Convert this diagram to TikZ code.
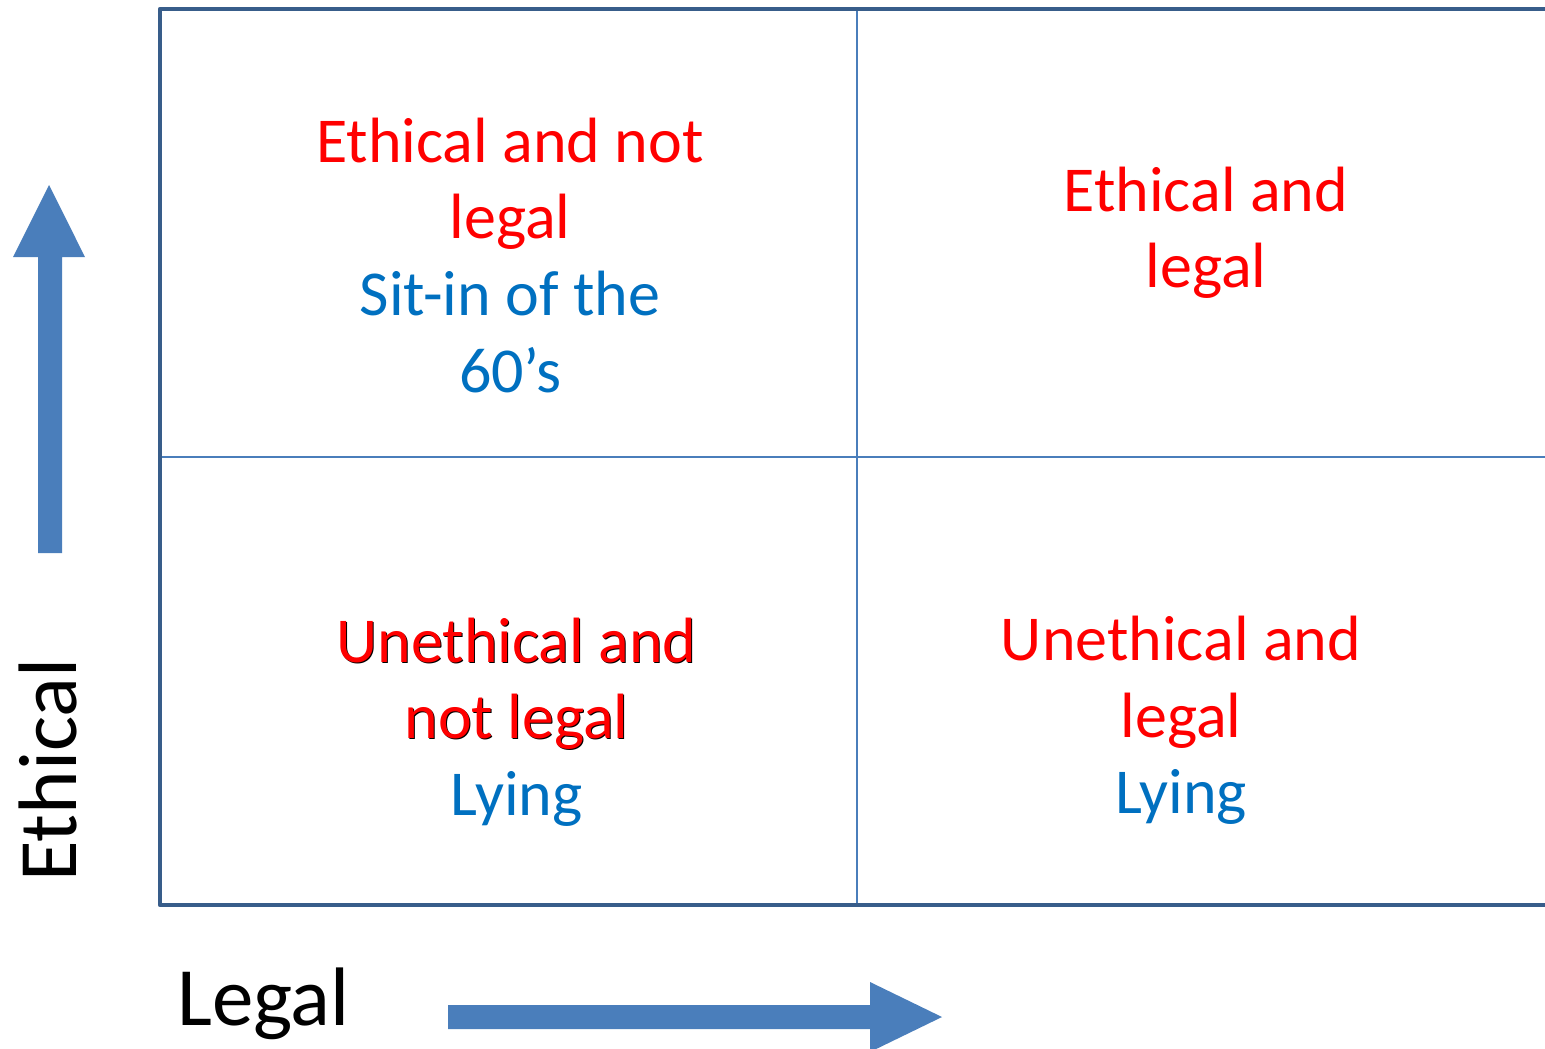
\documentclass[tikz,border=0pt]{standalone}
\usepackage{fontspec}
\setmainfont{Carlito}
\definecolor{frameblue}{HTML}{385D8A}
\definecolor{lineblue}{HTML}{4A7EBB}
\definecolor{arrowblue}{HTML}{4A7EBB}
\definecolor{txtred}{HTML}{FF0000}
\definecolor{txtblue}{HTML}{0070C0}
\begin{document}
\begin{tikzpicture}[x=1pt,y=-1pt,
  celltxt/.style={inner sep=0pt,anchor=base,font=\fontsize{64}{77}\selectfont},
  redtxt/.style={celltxt,text=txtred},
  bluetxt/.style={celltxt,text=txtblue},
  shadowtxt/.style={celltxt,text=black},
  axislabel/.style={inner sep=0pt,font=\fontsize{83}{99}\selectfont,text=black},
  fatarrow/.style={fill=arrowblue,draw=none}]
\useasboundingbox (0,0) rectangle (1545,1049);
\clip (0,0) rectangle (1545,1049);
% frame and grid
\draw[lineblue,line width=1.5pt] (857,9) -- (857,905);
\draw[lineblue,line width=1.5pt] (160,457) -- (1560,457);
\draw[frameblue,line width=4.5pt,line join=round] (1570,9) -- (160,9) -- (160,905) -- (1570,905);
% arrows
\fill[fatarrow] (38,553) -- (38,257) -- (13,257) -- (49,185) -- (85,257) -- (62,257) -- (62,553) -- cycle;
\fill[fatarrow] (448,1005) -- (870,1005) -- (870,982) -- (942,1017) -- (870,1052) -- (870,1029) -- (448,1029) -- cycle;
% axis labels
\node[axislabel,anchor=base west,rotate=90] (ethical) at (76,882) {Ethical};
\node[axislabel,anchor=base west] (legal) at (177,1025) {Legal};
% top-left
\node[redtxt] (tl1) at (510,162) {Ethical and not};
\node[redtxt] (tl2) at (510,238) {legal};
\node[bluetxt] (tl3) at (510,315) {Sit-in of the};
\node[bluetxt] (tl4) at (510,392) {60’s};
% top-right
\node[redtxt] (tr1) at (1206,211) {Ethical and};
\node[redtxt] (tr2) at (1206,287) {legal};
% bottom-left (red text with black shadow)
\node[shadowtxt] (bl1s) at (517.5,663.5) {Unethical and};
\node[shadowtxt] (bl2s) at (517.5,739.5) {not legal};
\node[redtxt] (bl1) at (516.5,662) {Unethical and};
\node[redtxt] (bl2) at (516.5,738) {not legal};
\node[bluetxt] (bl3) at (516.5,815) {Lying};
% bottom-right
\node[redtxt] (br1) at (1181,660) {Unethical and};
\node[redtxt] (br2) at (1181,737) {legal};
\node[bluetxt] (br3) at (1181,813) {Lying};
\end{tikzpicture}
\end{document}
